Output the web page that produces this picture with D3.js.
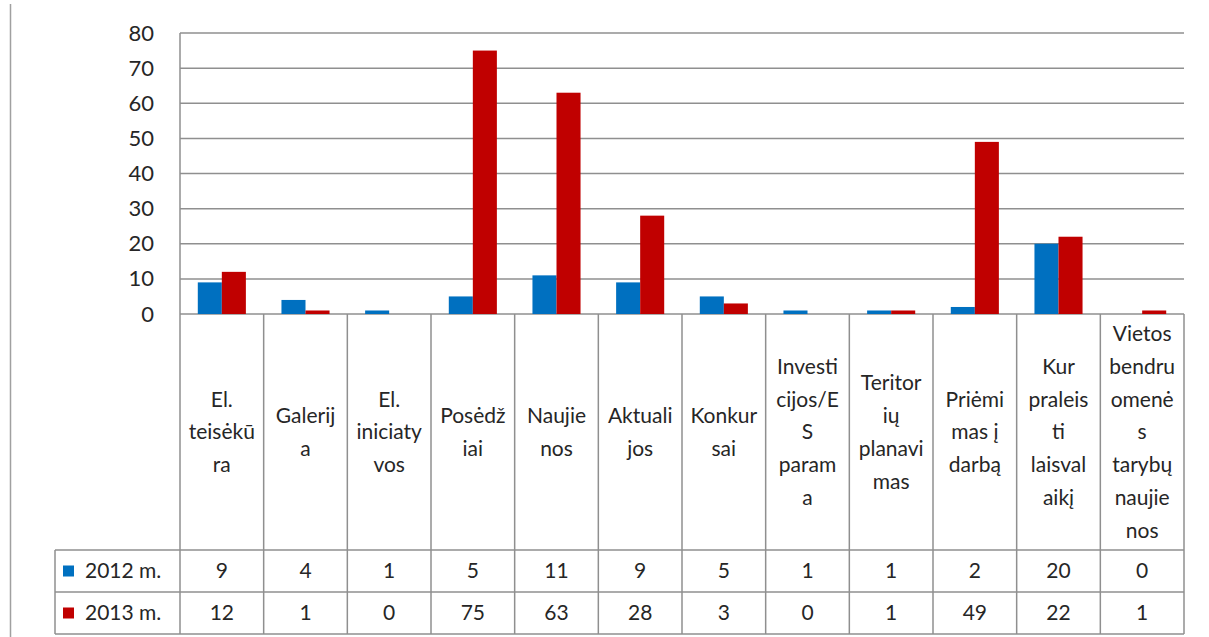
<!DOCTYPE html>
<html>
<head>
<meta charset="utf-8">
<script src="https://cdn.jsdelivr.net/npm/d3@7"></script>
<style>
  body { margin: 0; background: #fff; }
  svg text { font-family: Lato, "Open Sans", sans-serif; fill: #262626; }
</style>
</head>
<body>
<div id="chart"></div>
<script>
// categories, as wrapped in the data table
var categories = [
  ["El.", "teisėkū", "ra"],
  ["Galerij", "a"],
  ["El.", "iniciaty", "vos"],
  ["Posėdž", "iai"],
  ["Naujie", "nos"],
  ["Aktuali", "jos"],
  ["Konkur", "sai"],
  ["Investi", "cijos/E", "S", "param", "a"],
  ["Teritor", "ių", "planavi", "mas"],
  ["Priėmi", "mas į", "darbą"],
  ["Kur", "praleis", "ti", "laisval", "aikį"],
  ["Vietos", "bendru", "omenė", "s", "tarybų", "naujie", "nos"]
];
var seriesNames = ["2012 m.", "2013 m."];
var values2012 = [9, 4, 1, 5, 11, 9, 5, 1, 1, 2, 20, 0];
var values2013 = [12, 1, 0, 75, 63, 28, 3, 0, 1, 49, 22, 1];
var yTicks = [0, 10, 20, 30, 40, 50, 60, 70, 80];

function drawChart() {
  var colors = ["#0070C0", "#C00000"];
  var series = [values2012, values2013];

  var W = 1209, H = 637;
  var plotLeft = 180, plotRight = 1184, plotTop = 33, zeroY = 314;
  var labelBottom = 550, rowH = 42, legendLeft = 55;
  var gridColor = "#8f8f8f";

  var svg = d3.select("#chart").append("svg")
    .attr("width", W).attr("height", H);

  // outer faint border on the left
  svg.append("line")
    .attr("x1", 10.5).attr("x2", 10.5).attr("y1", 4).attr("y2", H)
    .attr("stroke", "#a0a0a0").attr("stroke-width", 1.5);

  var idx = d3.range(categories.length);
  var x = d3.scaleBand().domain(idx).range([plotLeft, plotRight]).paddingInner(0).paddingOuter(0);
  var xs = d3.scaleBand().domain([0, 1]).range([0, x.bandwidth()]).paddingOuter(0.74).paddingInner(0);
  var y = d3.scaleLinear().domain([0, 80]).range([zeroY, plotTop]);

  // gridlines
  svg.append("g").selectAll("line").data(yTicks).enter().append("line")
    .attr("x1", plotLeft).attr("x2", plotRight)
    .attr("y1", function(d) { return y(d); }).attr("y2", function(d) { return y(d); })
    .attr("stroke", gridColor).attr("stroke-width", 1.5);

  // y axis labels
  var yAxis = svg.append("g")
    .attr("transform", "translate(" + (plotLeft - 26) + ",0)")
    .call(d3.axisLeft(y).tickValues(yTicks).tickSize(0).tickPadding(0));
  yAxis.select(".domain").remove();
  yAxis.selectAll("text")
    .style("font-size", "22px")
    .style("font-family", "Lato, 'Open Sans', sans-serif")
    .attr("fill", "#262626");

  // bars
  series.forEach(function(vals, s) {
    svg.append("g").selectAll("rect").data(vals).enter().append("rect")
      .attr("x", function(d, i) { return x(i) + xs(s); })
      .attr("width", xs.bandwidth())
      .attr("y", function(d) { return y(d); })
      .attr("height", function(d) { return zeroY - y(d); })
      .attr("fill", colors[s]);
  });

  // data table lines
  var table = svg.append("g").attr("stroke", gridColor).attr("stroke-width", 1.5);
  idx.concat([categories.length]).forEach(function(i) {
    var xx = i < categories.length ? x(i) : plotRight;
    table.append("line")
      .attr("x1", xx).attr("x2", xx)
      .attr("y1", i == 0 ? plotTop : zeroY).attr("y2", labelBottom + 2 * rowH);
  });
  [labelBottom, labelBottom + rowH, labelBottom + 2 * rowH].forEach(function(yy) {
    table.append("line")
      .attr("x1", legendLeft).attr("x2", plotRight)
      .attr("y1", yy).attr("y2", yy);
  });
  table.append("line")
    .attr("x1", legendLeft).attr("x2", legendLeft)
    .attr("y1", labelBottom).attr("y2", labelBottom + 2 * rowH);

  // category labels
  var lineH = 32.8;
  var catMid = (zeroY + labelBottom) / 2;
  categories.forEach(function(lines, i) {
    var t = svg.append("text")
      .attr("text-anchor", "middle")
      .style("font-size", "21px");
    var y0 = catMid - (lines.length - 1) * lineH / 2;
    lines.forEach(function(l, k) {
      t.append("tspan")
        .attr("x", x(i) + x.bandwidth() / 2)
        .attr("y", y0 + k * lineH)
        .attr("dy", "0.35em")
        .text(l);
    });
  });

  // table rows
  series.forEach(function(vals, s) {
    var cy = labelBottom + rowH * s + rowH / 2;
    svg.append("rect")
      .attr("x", 63).attr("y", cy - 5.5)
      .attr("width", 11).attr("height", 11)
      .attr("fill", colors[s]);
    svg.append("text")
      .attr("x", 85).attr("y", cy).attr("dy", "0.35em")
      .style("font-size", "21px")
      .text(seriesNames[s]);
    svg.append("g").selectAll("text").data(vals).enter().append("text")
      .attr("x", function(d, i) { return x(i) + x.bandwidth() / 2; })
      .attr("y", cy).attr("dy", "0.35em")
      .attr("text-anchor", "middle")
      .style("font-size", "21px")
      .text(function(d) { return d; });
  });
}

drawChart();
</script>
</body>
</html>
